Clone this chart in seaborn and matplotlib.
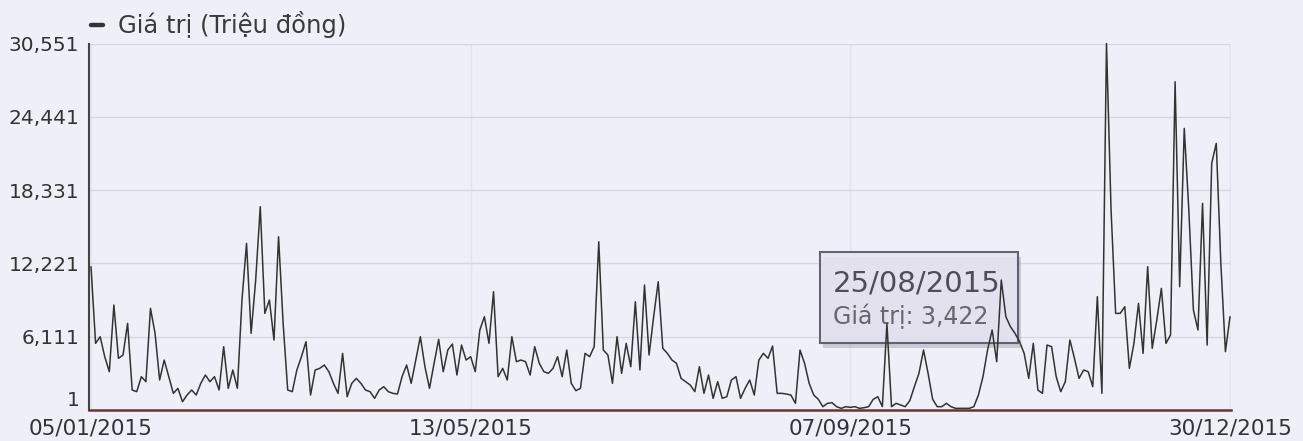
import numpy as np
import pandas as pd
import matplotlib
matplotlib.use("Agg")
import matplotlib.pyplot as plt
import seaborn as sns
from matplotlib.patches import Rectangle

# ---------------- data ----------------
series_label = "Giá trị (Triệu đồng)"

values_part1 = [11945, 5556, 6111, 4445, 3195, 8750, 4306, 4584, 7223, 1667,
                1528, 2778, 2361, 8473, 6389, 2500, 4167, 2778, 1389, 1806,
                694, 1250, 1667, 1250, 2222, 2917, 2361, 2778, 1667, 5278,
                1806, 3334, 1806, 9167, 13890, 6389, 10834, 16946, 8056, 9167,
                5834, 14446, 7223, 1667, 1528, 3334, 4445, 5695, 1250, 3334]
values_part2 = [3473, 3750, 3195, 2222, 1389, 4723, 1111, 2222, 2639, 2222,
                1667, 1528, 972, 1667, 1945, 1528, 1389, 1333, 2778, 3750,
                2222, 4167, 6111, 3611, 1806, 3889, 5889, 3195, 5000, 5500,
                2917, 5417, 4167, 4445, 3195, 6667, 7778, 5556, 9862, 2778,
                3473, 2500, 6111, 4028, 4167, 4028, 2917, 5278, 3889, 3195]
values_part3 = [3056, 3473, 4445, 2778, 5000, 2222, 1611, 1806, 4723, 4445,
                5278, 14029, 5000, 4584, 2222, 6111, 3056, 5556, 3611, 9028,
                3334, 10418, 4584, 7778, 10695, 5139, 4723, 4167, 3889, 2639,
                2361, 2083, 1528, 3611, 1389, 2917, 972, 2361, 972, 1111,
                2500, 2778, 972, 1806, 2500, 1250, 4167, 4723, 4306, 5334]
values_part4 = [1389, 1389, 1333, 1250, 556, 5000, 3889, 2222, 1250, 889,
                278, 556, 611, 278, 139, 278, 222, 278, 139, 194,
                278, 889, 1111, 278, 7200, 278, 556, 417, 278, 778,
                1945, 3056, 5000, 3056, 889, 278, 278, 556, 278, 139,
                139, 139, 139, 278, 1250, 2778, 5000, 6667, 4028, 10834,
                7778, 6945, 6389]
values_part5 = [5695, 4723, 2639, 5556, 1667, 1389, 5417, 5278, 2778, 1528,
                2361, 5834, 4306, 2639, 3334, 3195, 1945, 9445, 1389, 30551,
                16668, 8056, 8056, 8612, 3473, 5556, 8890, 4723, 11945, 5139,
                7500, 10140, 5556, 6250, 27363, 10278, 23474, 16668, 8334, 6667,
                17224, 5417, 20557, 22224, 12223, 4861, 7778]

values = values_part1 + values_part2 + values_part3 + values_part4 + values_part5

x_tick_labels = ["05/01/2015", "13/05/2015", "07/09/2015", "30/12/2015"]
y_ticks = [1, 6111, 12221, 18331, 24441, 30551]

tooltip_date = "25/08/2015"
tooltip_value = 3422

# ---------------- style ----------------
sns.set_style("white")
plt.rcParams['font.family'] = ['DejaVu Sans']

W, H = 1303, 441
bg = '#eff0f7'
fig = plt.figure(figsize=(W / 100, H / 100), dpi=100)
fig.patch.set_facecolor(bg)

ax_left, ax_right, ax_top, ax_bottom = 89, 1231, 43.5, 410
ax = fig.add_axes([ax_left / W, 1 - ax_bottom / H,
                   (ax_right - ax_left) / W, (ax_bottom - ax_top) / H])
ax.set_facecolor(bg)

df = pd.DataFrame({"idx": np.arange(len(values)), "value": values})
sns.lineplot(data=df, x="idx", y="value", ax=ax, color='#333333',
             linewidth=1.1, label=series_label, zorder=4)
for ln in ax.get_lines():
    ln.set_clip_on(False)

n = len(values)
ax.set_xlim(-0.44, n - 1 + 0.22)
ax.set_ylim(y_ticks[0], y_ticks[-1])

tick_pos = [0, (n - 1) / 3, 2 * (n - 1) / 3, n - 1]
ax.set_xticks(tick_pos)
ax.set_xticklabels(x_tick_labels)
ax.set_yticks(y_ticks)
ax.set_yticklabels([f"{v:,}" for v in y_ticks])
ax.set_xlabel("")
ax.set_ylabel("")

ax.tick_params(axis='y', length=0, labelsize=14.5, colors='#333333', pad=7)
ax.tick_params(axis='x', length=0, labelsize=15.5, colors='#333333', pad=6)
ylabs = ax.get_yticklabels()
ylabs[0].set_va('bottom')

ax.grid(axis='y', color='#d5d6de', linewidth=1.0)
ax.grid(axis='x', color='#e3e4ec', linewidth=1.0)
ax.set_axisbelow(True)

for s in ['top', 'right']:
    ax.spines[s].set_visible(False)
ax.spines['left'].set_color('#444444')
ax.spines['left'].set_linewidth(1.5)
ax.spines['bottom'].set_color('#5e3a32')
ax.spines['bottom'].set_linewidth(1.8)

# legend
leg = ax.legend(loc='center left', bbox_to_anchor=(91 / W, 1 - 25 / H),
                bbox_transform=fig.transFigure, frameon=False,
                handlelength=0.5, handletextpad=0.6, borderpad=0,
                borderaxespad=0, fontsize=17.5)
for l in leg.get_lines():
    l.set_linewidth(3.2)
for t in leg.get_texts():
    t.set_color('#3a3a3a')

# tooltip (drawn below the line, as in the reference)
tx0, tx1, ty0, ty1 = 820, 1018, 252, 343
shadow = Rectangle(((tx0 + 3) / W, 1 - (ty1 + 5) / H), (tx1 - tx0) / W, (ty1 - ty0) / H,
                   transform=fig.transFigure, facecolor='#a9a9b3', alpha=0.55,
                   edgecolor='none', zorder=2, clip_on=False)
box = Rectangle((tx0 / W, 1 - ty1 / H), (tx1 - tx0) / W, (ty1 - ty0) / H,
                transform=fig.transFigure, facecolor='#e7e4f1', alpha=0.9,
                edgecolor='#55556a', linewidth=1.5, zorder=2.5, clip_on=False)
ax.add_patch(shadow)
ax.add_patch(box)
ax.text(833 / W, 1 - 283 / H, tooltip_date, fontsize=21, color='#4e4e5a',
        va='center', ha='left', zorder=3, transform=fig.transFigure)
ax.text(833 / W, 1 - 316 / H, f"Giá trị: {tooltip_value:,}", fontsize=17,
        color='#66666e', va='center', ha='left', zorder=3, transform=fig.transFigure)

fig.savefig("out.png", dpi=100, facecolor=bg)
